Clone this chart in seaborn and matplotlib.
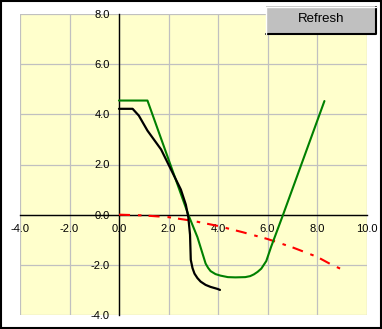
import matplotlib
matplotlib.use("Agg")
import matplotlib.pyplot as plt
import seaborn as sns
from matplotlib.patches import Rectangle
from matplotlib.lines import Line2D

# curve data
black_x = [0.0, 0.55, 0.8, 1.15, 1.7, 2.1, 2.5, 2.7, 2.8, 2.87, 2.9, 2.97, 3.05, 3.17, 3.3, 3.5, 3.7, 3.98, 4.08]
black_y = [4.22, 4.22, 3.95, 3.35, 2.6, 1.8, 1.0, 0.4, -0.1, -0.8, -1.8, -2.13, -2.35, -2.53, -2.67, -2.8, -2.88, -2.96, -3.0]

green_x = [0.0, 1.15, 2.8, 3.17, 3.5, 3.6, 3.7, 3.9, 4.1, 4.4, 4.7, 5.1, 5.3, 5.45, 5.6, 5.75, 5.95, 6.15, 6.63, 8.3]
green_y = [4.55, 4.55, 0.0, -0.9, -1.95, -2.12, -2.25, -2.37, -2.43, -2.49, -2.5, -2.49, -2.45, -2.38, -2.28, -2.15, -1.85, -1.27, 0.0, 4.53]

red_x = [0.0, 1.0, 2.0, 3.0, 4.0, 5.0, 6.0, 7.0, 8.0, 8.6, 9.05]
red_y = [0.0, -0.03, -0.1, -0.25, -0.45, -0.7, -0.97, -1.3, -1.68, -2.0, -2.2]

x_ticks = [-4, -2, 0, 2, 4, 6, 8, 10]
y_ticks = [-4, -2, 0, 2, 4, 6, 8]

sns.set_style("white")
plt.rcParams["font.family"] = ["Liberation Sans", "DejaVu Sans"]

fig = plt.figure(figsize=(3.82, 3.29), dpi=100)
ax = fig.add_axes([20 / 382, 14 / 329, 346.5 / 382, 301 / 329])
ax.set_facecolor("#FFFFCC")

sns.lineplot(x=red_x, y=red_y, ax=ax, sort=False, estimator=None, color="#FF0000",
             linewidth=1.5, linestyle=(0, (5.3, 3.8, 1.7, 3.4)), zorder=3)
sns.lineplot(x=green_x, y=green_y, ax=ax, sort=False, estimator=None, color="#008000",
             linewidth=1.5, zorder=4)
sns.lineplot(x=black_x, y=black_y, ax=ax, sort=False, estimator=None, color="#000000",
             linewidth=1.6, zorder=5)

ax.set_xlim(-4, 10)
ax.set_ylim(-4, 8)
ax.set_xticks(x_ticks)
ax.set_yticks(y_ticks)
ax.set_xticklabels([f"{v:.1f}" for v in x_ticks])
ax.set_yticklabels([f"{v:.1f}" for v in y_ticks])
ax.grid(True, color="#C0C0C0", linewidth=0.9)
ax.set_axisbelow(True)

for side in ["top", "right"]:
    ax.spines[side].set_visible(False)
ax.spines["left"].set_position(("data", 0))
ax.spines["bottom"].set_position(("data", 0))
for side in ["left", "bottom"]:
    ax.spines[side].set_color("black")
    ax.spines[side].set_linewidth(1.0)
    ax.spines[side].set_zorder(2.5)
ax.tick_params(axis="both", direction="out", length=3.5, width=1.0, color="black",
               labelsize=8, labelcolor="black")
ax.tick_params(axis="x", pad=3)
ax.tick_params(axis="y", pad=3)
ax.set_xlabel("")
ax.set_ylabel("")

# outer border
fig.patches.append(Rectangle((0.002, 0.003), 0.995, 0.994, transform=fig.transFigure,
                             fill=False, edgecolor="black", linewidth=1.5))

# Refresh button
bx0, bx1 = 265.5 / 382, 376 / 382
by0, by1 = 1 - 33.5 / 329, 1 - 6.5 / 329
fig.patches.append(Rectangle((bx0, by0), bx1 - bx0, by1 - by0, transform=fig.transFigure,
                             facecolor="#C0C0C0", edgecolor="none", zorder=10))
fig.lines.append(Line2D([bx0, bx1, bx1], [by0, by0, by1], transform=fig.transFigure,
                        color="black", linewidth=1.5, zorder=11))
fig.lines.append(Line2D([bx0, bx0, bx1], [by0, by1, by1], transform=fig.transFigure,
                        color="white", linewidth=1.0, zorder=11))
fig.text((bx0 + bx1) / 2, (by0 + by1) / 2 + 0.002, "Refresh", ha="center", va="center",
         fontsize=9.5, color="black", zorder=12)

plt.savefig("out.png", dpi=100)
